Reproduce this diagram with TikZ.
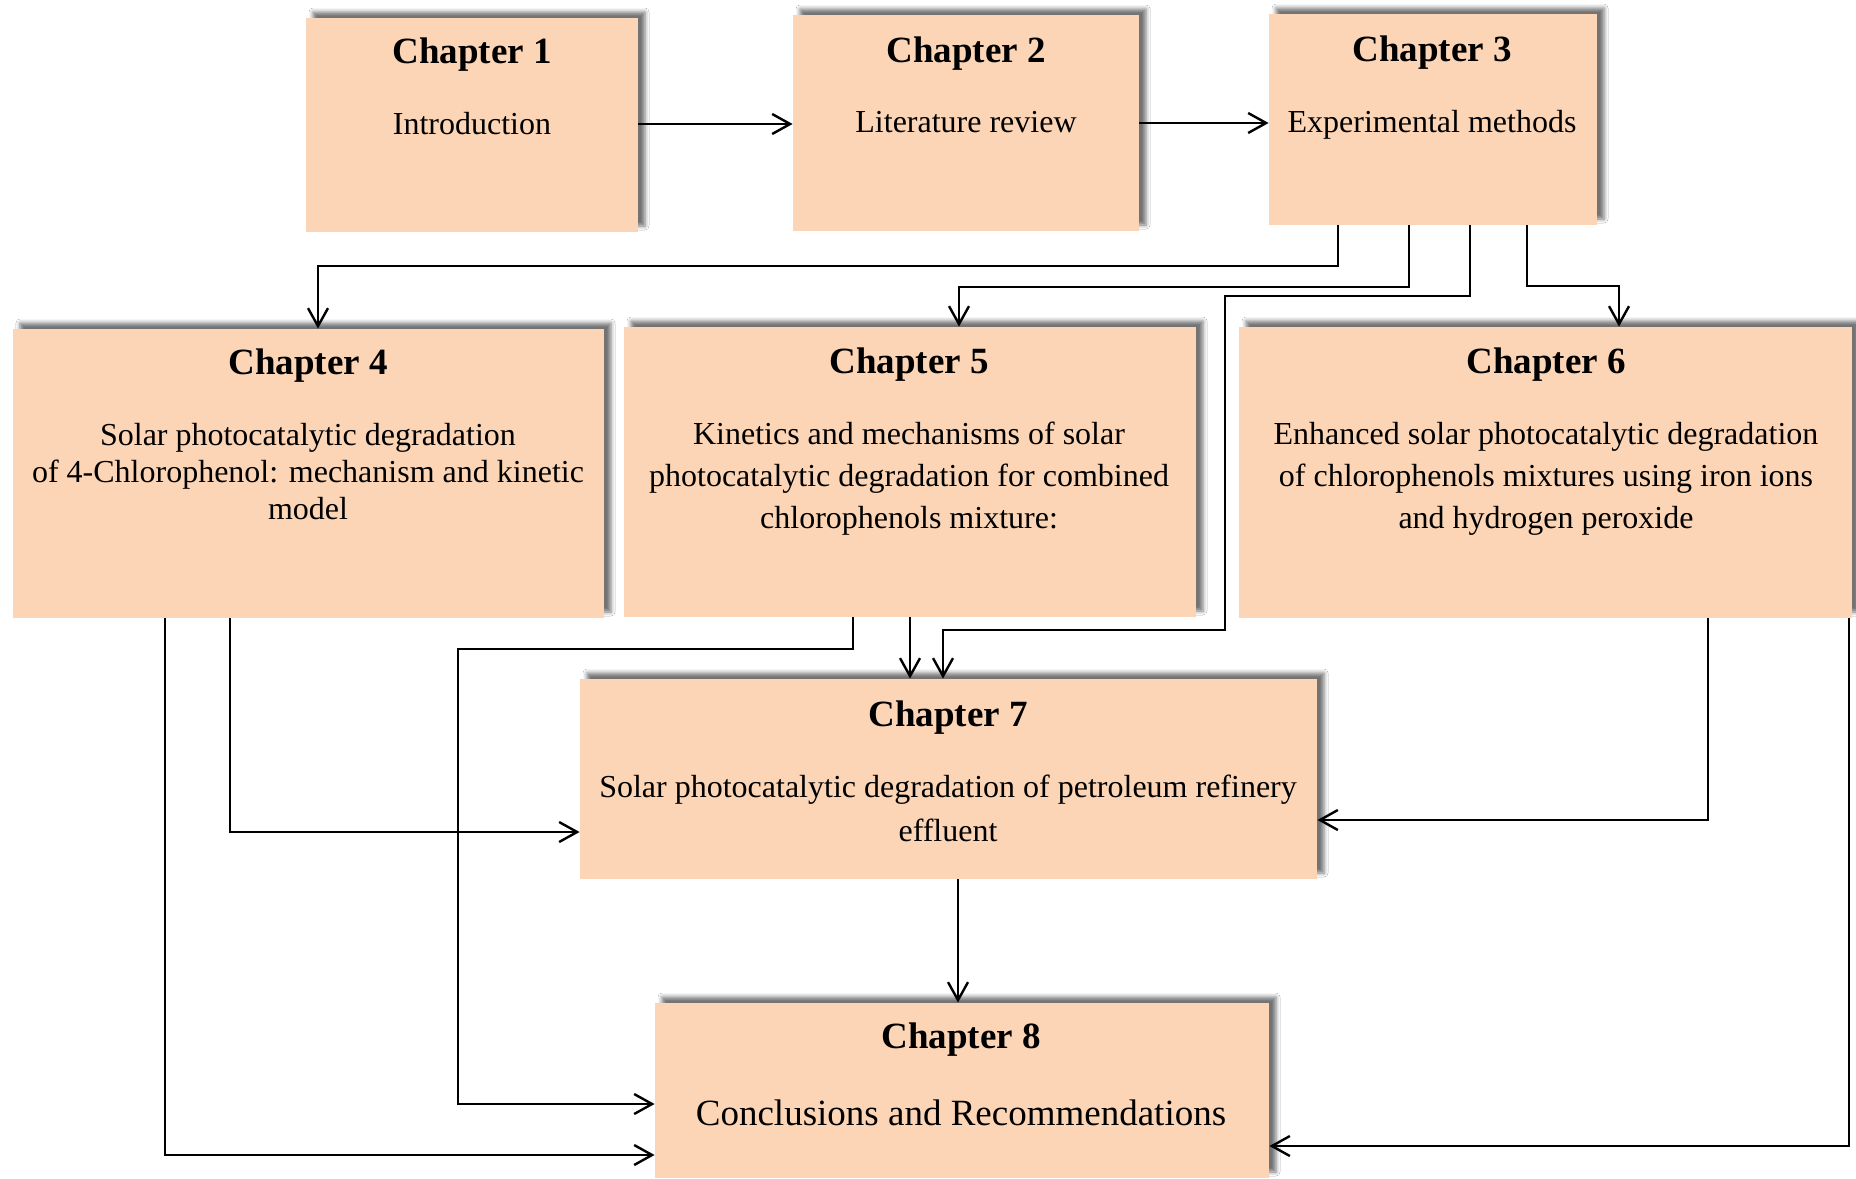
\documentclass[tikz,border=0pt]{standalone}
\usepackage{fontspec}
\setmainfont{Liberation Serif}
\usetikzlibrary{arrows.meta,fit,shadows.blur}
\definecolor{peach}{HTML}{FBD5B5}
\tikzset{
  chbox/.style={fill=peach, draw=none, inner sep=0pt,
    blur shadow={shadow xshift=3.5pt, shadow yshift=3pt, shadow blur radius=2pt, shadow opacity=55}},
  ttl/.style={font=\fontsize{18.5}{22}\selectfont\bfseries, inner sep=0pt},
  body/.style={font=\fontsize{16}{21}\selectfont, align=center, inner sep=0pt},
  arr/.style={line width=1.2pt, -{Straight Barb[length=9pt,width=10pt,line width=1.2pt]}}
}
\begin{document}
\begin{tikzpicture}[x=0.5pt,y=-0.5pt]
\useasboundingbox[fill=white] (0,0) rectangle (1856,1178);
% boxes
\node[chbox, fit={(306,18) (638,232)}] (c1) {};
\node[chbox, fit={(793,15) (1139,231)}] (c2) {};
\node[chbox, fit={(1269,14) (1597,225)}] (c3) {};
\node[chbox, fit={(13,329) (604,618)}] (c4) {};
\node[chbox, fit={(624,327) (1196,617)}] (c5) {};
\node[chbox, fit={(1239,327) (1852,618)}] (c6) {};
\node[chbox, fit={(580,679) (1317,879)}] (c7) {};
\node[chbox, fit={(655,1003) (1269,1178)}] (c8) {};
% texts
\node[ttl] (t1) at (472,55) {Chapter 1};
\node[body] (b1) at (472,124) {Introduction};
\node[ttl] (t2) at (966,54) {Chapter 2};
\node[body] (b2) at (966,122) {Literature review};
\node[ttl] (t3) at (1432,53) {Chapter 3};
\node[body] (b3) at (1432,125) {Experimental methods};
\node[ttl] (t4) at (308,366) {Chapter 4};
\node[body, font=\fontsize{16}{18.5}\selectfont] (b4) at (308,472) {Solar photocatalytic degradation\\of 4-Chlorophenol: mechanism and kinetic\\model};
\node[ttl] (t5) at (909,365) {Chapter 5};
\node[body] (b5) at (909,479) {Kinetics and mechanisms of solar\\photocatalytic degradation for combined\\chlorophenols mixture:};
\node[ttl] (t6) at (1546,365) {Chapter 6};
\node[body] (b6) at (1546,479) {Enhanced solar photocatalytic degradation\\of chlorophenols mixtures using iron ions\\and hydrogen peroxide};
\node[ttl] (t7) at (948,718) {Chapter 7};
\node[body, font=\fontsize{16}{22}\selectfont] (b7) at (948,808) {Solar photocatalytic degradation of petroleum refinery\\effluent};
\node[ttl] (t8) at (961,1040) {Chapter 8};
\node[body, font=\fontsize{18.5}{22}\selectfont] (b8) at (961,1113) {Conclusions and Recommendations};
% connectors
\draw[arr] (c1.east |- 0,124) -- (c2.west |- 0,124);
\draw[arr] (c2.east |- 0,123) -- (c3.west |- 0,123);
\draw[arr] (1338,0 |- c3.south) |- (318,266) -- (318,0 |- c4.north);
\draw[arr] (1409,0 |- c3.south) |- (959,287) -- (959,0 |- c5.north);
\draw[arr] (1470,0 |- c3.south) |- (1225,296) |- (943,630) -- (943,0 |- c7.north);
\draw[arr] (1527,0 |- c3.south) |- (1619,286) -- (1619,0 |- c6.north);
\draw[arr] (910,0 |- c5.south) -- (910,0 |- c7.north);
\draw[arr] (853,0 |- c5.south) |- (458,649) |- (c8.west |- 0,1104);
\draw[arr] (230,0 |- c4.south) |- (c7.west |- 0,832);
\draw[arr] (165,0 |- c4.south) |- (c8.west |- 0,1155);
\draw[arr] (1708,0 |- c6.south) |- (c7.east |- 0,820);
\draw[arr] (1849,0 |- c6.south) |- (c8.east |- 0,1146);
\draw[arr] (958,0 |- c7.south) -- (958,0 |- c8.north);
\end{tikzpicture}
\end{document}
